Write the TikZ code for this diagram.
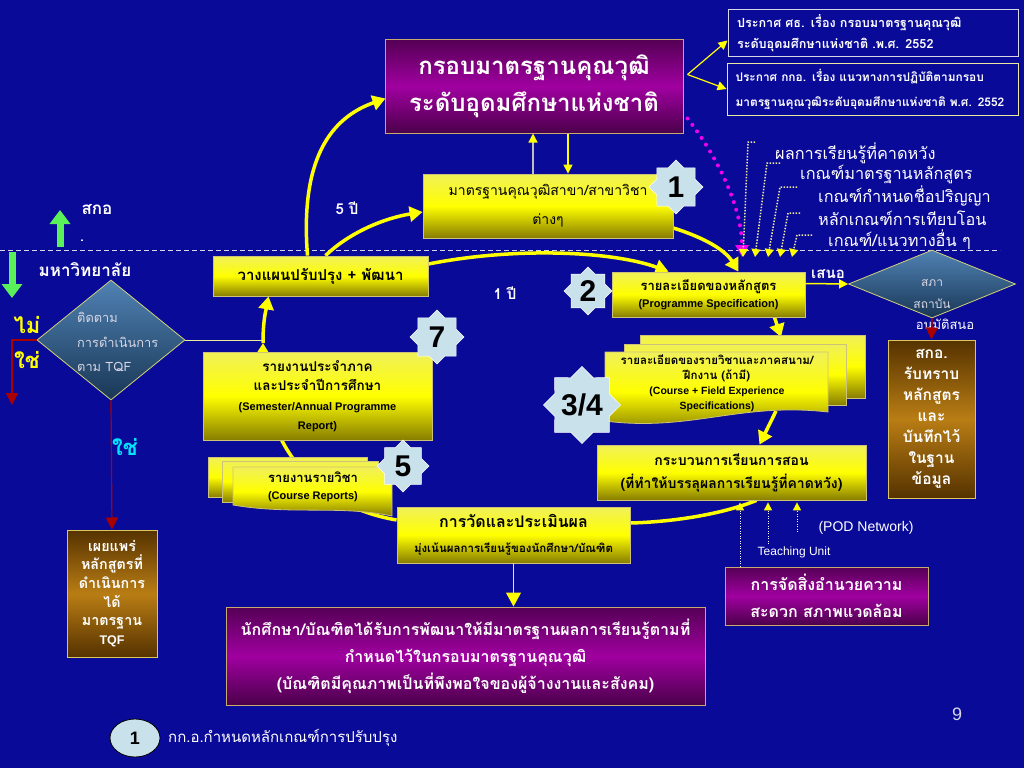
\documentclass[tikz,border=0pt]{standalone}
\usepackage{fontspec}
\setmainfont{Liberation Sans}
\newfontfamily\thaif[Script=Thai]{Loma}
\usetikzlibrary{shapes.geometric,arrows.meta,calc}
\definecolor{BG}{RGB}{10,10,153}
\definecolor{Ytop}{RGB}{240,240,90}
\definecolor{Ymid}{RGB}{255,255,0}
\definecolor{Ybot}{RGB}{135,125,0}
\definecolor{Yedge}{RGB}{205,195,120}
\definecolor{Ptop}{RGB}{85,0,85}
\definecolor{Pmid}{RGB}{160,0,160}
\definecolor{Pbot}{RGB}{75,0,75}
\definecolor{Pedge}{RGB}{200,170,110}
\definecolor{Btop}{RGB}{85,50,0}
\definecolor{Bmid}{RGB}{185,125,20}
\definecolor{Bbot}{RGB}{85,50,0}
\definecolor{Bedge}{RGB}{220,200,90}
\definecolor{Dtop}{RGB}{80,130,180}
\definecolor{Dbot}{RGB}{25,55,85}
\definecolor{Dedge}{RGB}{210,210,120}
\definecolor{StarC}{RGB}{200,225,235}
\definecolor{ArrY}{RGB}{255,255,0}
\definecolor{Mag}{RGB}{240,0,240}
\definecolor{RedL}{RGB}{170,0,0}
\definecolor{GreenA}{RGB}{90,240,90}
\definecolor{CyanT}{RGB}{0,230,255}
\definecolor{YelT}{RGB}{255,255,0}
\definecolor{GreyT}{RGB}{215,215,230}
\definecolor{PaleY}{RGB}{235,235,160}
\definecolor{GreyL}{RGB}{190,190,190}
\newcommand{\fsz}[2]{\fontsize{#1}{#2}\selectfont}
\pgfdeclarelayer{back}
\pgfdeclarelayer{mid}
\pgfsetlayers{back,mid,main}
\tikzset{
 ybox/.style={draw=Yedge, line width=0.8pt, top color=Ytop, bottom color=Ybot, middle color=Ymid, align=center, inner sep=0pt, text=black},
 sheet/.style={draw=Yedge, line width=0.8pt, top color=Ytop, bottom color=Ybot, middle color=Ymid},
 pbox/.style={draw=Pedge, line width=1pt, top color=Ptop, bottom color=Pbot, middle color=Pmid, align=center, inner sep=0pt, text=white},
 bbox/.style={draw=Bedge, line width=1pt, top color=Btop, bottom color=Bbot, middle color=Bmid, align=center, inner sep=0pt, text=white},
 nbox/.style={line width=1pt, fill=BG, inner sep=0pt, text=white},
 dia/.style={diamond, draw=Dedge, line width=0.8pt, top color=Dtop, bottom color=Dbot, inner sep=0pt},
 starn/.style={star, star points=8, star point ratio=1.31, fill=StarC, draw=white, line width=0.5pt, inner sep=0pt, text=black, font=\bfseries\fsz{30}{30}},
 cyc/.style={draw=ArrY, line width=3.5pt, -{Triangle[length=13pt,width=15pt]}},
 cycn/.style={draw=ArrY, line width=3.5pt},
 thinY/.style={draw=ArrY, line width=1.2pt, -{Triangle[length=9pt,width=9pt]}},
 ydot/.style={draw=PaleY, line width=1.5pt, dash pattern=on 1.5pt off 1.5pt, -{Triangle[length=8pt,width=9pt,color=ArrY]}},
 wdot/.style={draw=white, line width=1pt, dash pattern=on 1pt off 1.5pt, -{Triangle[length=8pt,width=8pt,color=ArrY]}},
 redl/.style={draw=RedL, line width=1.2pt, -{Triangle[length=12pt,width=12pt]}},
 garrow/.style={draw=GreenA, line width=7pt, -{Triangle[length=14pt,width=20pt]}},
 crit/.style={anchor=west, inner sep=0pt, text=white, font=\thaif\fsz{16.3}{20}},
 lbl/.style={inner sep=0pt, text=white},
}
\begin{document}
\begin{tikzpicture}[x=1pt,y=-1pt]
\useasboundingbox (0,0) rectangle (1024,768);
\begin{pgfonlayer}{back}
\fill[BG] (0,0) rectangle (1024,768);
\end{pgfonlayer}

% coordinates
\coordinate (k) at (263,343);
\coordinate (spectop) at (781,337);
\coordinate (specbot) at (776,411);
\coordinate (magend) at (742,257);
\coordinate (t1) at (743,257);
\coordinate (t2) at (755,257);
\coordinate (t3) at (768,257);
\coordinate (t4) at (780,257);
\coordinate (t5) at (792,257);
\coordinate (tu) at (768,544);
\coordinate (podc) at (797,532);
\coordinate (redend) at (12,405);
\coordinate (gup0) at (60,247);
\coordinate (gup1) at (60,210);
\coordinate (gdn0) at (12,252);
\coordinate (gdn1) at (12,298);

% top right announcement boxes
\node[nbox, draw=GreyT, minimum width=290pt, minimum height=47pt, text width=272pt, align=left, font=\thaif\bfseries\fsz{12.6}{21}] (an1) at (873,33.5) {ประกาศ ศธ. เรื่อง กรอบมาตรฐานคุณวุฒิ\\ระดับอุดมศึกษาแห่งชาติ .พ.ศ. 2552};
\node[nbox, draw=PaleY, minimum width=291pt, minimum height=52pt, text width=274pt, align=left, font=\thaif\bfseries\fsz{11.9}{25}] (an2) at (872.5,89) {ประกาศ กกอ. เรื่อง แนวทางการปฏิบัติตามกรอบ\\มาตรฐานคุณวุฒิระดับอุดมศึกษาแห่งชาติ พ.ศ. 2552};

% main frame box
\node[pbox, minimum width=298pt, minimum height=93pt, font=\thaif\bfseries\fsz{24}{37}] (main) at (534,86.5) {กรอบมาตรฐานคุณวุฒิ\\ระดับอุดมศึกษาแห่งชาติ};
\coordinate (mfork) at ($(main.east)+(4,-12)$);

% field standards
\node[ybox, minimum width=250pt, minimum height=64pt, font=\thaif\fsz{14}{29}] (std) at (548,206) {มาตรฐานคุณวุฒิสาขา/สาขาวิชา\\ต่างๆ};

% plan
\node[ybox, minimum width=215pt, minimum height=40pt, font=\thaif\bfseries\fsz{15}{18}] (plan) at (320.5,276) {วางแผนปรับปรุง + พัฒนา};

% programme spec
\node[ybox, minimum width=193pt, minimum height=45pt, font=\bfseries\fsz{11}{17}] (prog) at (708.5,294.5) {{\thaif\fsz{13}{17}รายละเอียดของหลักสูตร}\\(Programme Specification)};

% council diamond
\node[dia, minimum width=167pt, minimum height=68pt] (sapa) at (932,284) {};
\node[lbl, align=center, font=\thaif\fsz{12}{22}, text=GreyT] (sapat) at (932,294) {สภา\\สถาบัน};
\node[lbl, font=\thaif\fsz{13}{15}] (appr) at (945,326) {อนุมัติสนอ};

% OHEC acknowledges
\node[bbox, minimum width=87pt, minimum height=158pt, font=\thaif\bfseries\fsz{15.5}{21}] (sko) at (931.5,419) {สกอ.\\รับทราบ\\หลักสูตร\\และ\\บันทึกไว้\\ในฐาน\\ข้อมูล};

% course specs (stacked sheets)
\path[sheet] (640,335) rectangle (865,398);
\path[sheet] (624,344) rectangle (846,405);
\path[sheet] (605,352) -- (828,352) -- (828,412) .. controls (740,402) and (690,432) .. (605,421) -- cycle;
\node[lbl, text=black, align=center, font=\bfseries\fsz{10.5}{15}] (spec) at (717,383) {{\thaif\fsz{11.5}{15}รายละเอียดของรายวิชาและภาคสนาม/}\\{\thaif\fsz{11.5}{15}ฝึกงาน (ถ้ามี)}\\(Course + Field Experience\\Specifications)};

% teaching
\node[ybox, minimum width=269pt, minimum height=55pt, font=\thaif\bfseries\fsz{14}{23}] (teach) at (731.5,472.5) {กระบวนการเรียนการสอน\\(ที่ทำให้บรรลุผลการเรียนรู้ที่คาดหวัง)};

% facilities
\node[pbox, minimum width=203pt, minimum height=58pt, font=\thaif\bfseries\fsz{16}{27}] (facil) at (826.5,596) {การจัดสิ่งอำนวยความ\\สะดวก สภาพแวดล้อม};

% report 7
\node[ybox, minimum width=229pt, minimum height=88pt, font=\bfseries\fsz{11}{19.5}] (rep7) at (317.5,396) {{\thaif\fsz{13.5}{19.5}รายงานประจำภาค}\\{\thaif\fsz{13.5}{19.5}และประจำปีการศึกษา}\\(Semester/Annual Programme\\Report)};

% course reports (stacked sheets)
\path[sheet] (208,457) rectangle (367,497);
\path[sheet] (222,461) rectangle (378,502);
\path[sheet] (233,467) -- (392,467) -- (392,516) .. controls (340,505) and (290,515) .. (233,505) -- cycle;
\node[lbl, text=black, align=center, font=\bfseries\fsz{11}{17}] (crep) at (313,487) {{\thaif\fsz{13}{17}รายงานรายวิชา}\\(Course Reports)};

% evaluation
\node[ybox, minimum width=233pt, minimum height=56pt, font=\thaif\bfseries\fsz{16}{25}] (eval) at (513.5,535) {การวัดและประเมินผล\\{\fsz{11.5}{25}มุ่งเน้นผลการเรียนรู้ของนักศึกษา/บัณฑิต}};

% outcome
\node[pbox, minimum width=479pt, minimum height=98pt, font=\thaif\bfseries\fsz{16}{27}] (outcome) at (465.5,656) {นักศึกษา/บัณฑิตได้รับการพัฒนาให้มีมาตรฐานผลการเรียนรู้ตามที่\\กำหนดไว้ในกรอบมาตรฐานคุณวุฒิ\\(บัณฑิตมีคุณภาพเป็นที่พึงพอใจของผู้จ้างงานและสังคม)};

% follow-up diamond
\node[dia, minimum width=148pt, minimum height=120pt] (follow) at (111,340) {};
\node[lbl, anchor=west, align=left, font=\thaif\fsz{12.8}{24.5}, text=GreyT] (followt) at (77,342) {ติดตาม\\การดำเนินการ\\ตาม TQF};

% publish box
\node[bbox, minimum width=90pt, minimum height=127pt, font=\thaif\bfseries\fsz{14.3}{18.6}] (pub) at (112,593.5) {เผยแพร่\\หลักสูตรที่\\ดำเนินการ\\ได้\\มาตรฐาน\\{\normalfont\bfseries\fsz{12.5}{18.6}TQF}};

% criteria list
\node[crit] (c1) at (775,153) {ผลการเรียนรู้ที่คาดหวัง};
\node[crit] (c2) at (800,174) {เกณฑ์มาตรฐานหลักสูตร};
\node[crit] (c3) at (818,196) {เกณฑ์กำหนดชื่อปริญญา};
\node[crit] (c4) at (818,218) {หลักเกณฑ์การเทียบโอน};
\node[crit] (c5) at (828,240) {เกณฑ์/แนวทางอื่น ๆ};

% labels
\node[lbl, font=\thaif\bfseries\fsz{15}{15}] (y5) at (347,208) {5 ปี};
\node[lbl, font=\thaif\bfseries\fsz{15}{15}] (y1) at (505,293) {1 ปี};
\node[lbl, font=\thaif\bfseries\fsz{15}{15}] (sanoe) at (828,274) {เสนอ};
\node[lbl, font=\thaif\bfseries\fsz{17}{17}] (sko0) at (97,210) {สกอ};
\node[lbl, font=\thaif\bfseries\fsz{14}{14}] (dotl) at (82,241) {.};
\node[lbl, font=\thaif\bfseries\fsz{17}{17}] (uni) at (85,270) {มหาวิทยาลัย};
\node[lbl, font=\thaif\bfseries\fsz{22}{22}, text=YelT] (no) at (27,325) {ไม่};
\node[lbl, font=\thaif\bfseries\fsz{22}{22}, text=YelT] (yes1) at (27,360) {ใช่};
\node[lbl, font=\thaif\bfseries\fsz{22}{22}, text=CyanT] (yes2) at (125,447) {ใช่};
\node[lbl, font=\fsz{14}{14}] (pod) at (866,528) {(POD Network)};
\node[lbl, font=\fsz{12}{12}] (tun) at (794,552) {Teaching Unit};
\node[lbl, font=\fsz{18}{18}, text=GreyT] (pg) at (957,714) {9};

% legend
\node[ellipse, draw=black, line width=0.8pt, fill=StarC, minimum width=50pt, minimum height=38pt, inner sep=0pt, font=\bfseries\fsz{18}{18}] (leg) at (135,738) {1};
\node[lbl, anchor=west, font=\thaif\fsz{15}{15}] (legt) at (168,738) {กก.อ.กำหนดหลักเกณฑ์การปรับปรุง};

% stars
\node[starn, minimum size=54pt] (s1) at (676,187) {1};
\node[starn, minimum size=48pt] (s2) at (588,291) {2};
\node[starn, minimum size=58pt] (s34) at (582,405) {3/4};
\node[starn, minimum size=54pt] (s7) at (437,337) {7};
\node[starn, minimum size=52pt] (s5) at (403,466) {5};

% connectors under the boxes
\begin{pgfonlayer}{mid}
\draw[draw=GreyT, line width=1pt, dash pattern=on 5pt off 3pt] (0,250) -- (1000,250);
\draw[cyc] ($(plan.north)+(-13,0)$) .. controls (300,160) and (330,118) .. ($(main.west)+(1,12)$);
\draw[cyc] ($(plan.north)+(5,0)$) .. controls (350,232) and (385,218) .. ($(std.west)+(0,6)$);
\draw[cyc] ($(std.east)+(0,22)$) .. controls (705,238) and (725,250) .. ($(prog.north)+(30,0)$);
\draw[cyc] ($(plan.east)+(0,-12)$) .. controls (520,246) and (615,252) .. ($(prog.north)+(-40,0)$);
\draw[cyc] ($(prog.south)+(66,0)$) -- (spectop);
\draw[cyc] (specbot) -- ($(teach.north)+(28,0)$);
\draw[cycn] ($(teach.south)+(25,0)$) .. controls (720,515) and (670,522) .. ($(eval.east)+(0,-12)$);
\draw[cyc] ($(eval.west)+(0,-15)$) .. controls (310,505) and (262,440) .. (k);
\draw[cyc] (k) .. controls (263,320) and (266,310) .. ($(plan.south)+(-52,0)$);
\draw[draw=PaleY, line width=1pt] (follow.east) -- (follow.east -| k);
\end{pgfonlayer}

% other connectors
\draw[thinY] (mfork) -- ($(an1.west)+(0,7)$);
\draw[thinY] (mfork) -- (an2.west);
\draw[draw=GreyL, line width=1.2pt, -{Triangle[length=9pt,width=9pt,color=ArrY]}] ($(std.north)+(-15,0)$) -- ($(main.south)+(-1,0)$);
\draw[thinY] ($(main.south)+(34,0)$) -- ($(std.north)+(20,0)$);
\draw[draw=Mag, line width=4pt, line cap=round, dash pattern=on 0pt off 8pt, -{Triangle[length=12pt,width=13pt,color=Mag]}] ($(main.south east)+(4,-15)$) .. controls (720,160) and (742,210) .. (magend);
\draw[ydot] ($(c1.west)+(-20,-11)$) -- ++(-7,0) -- (t1);
\draw[ydot] ($(c2.west)+(-20,-11)$) -- ++(-13,0) -- (t2);
\draw[ydot] ($(c3.west)+(-21,-9)$) -- ++(-17,0) -- (t3);
\draw[ydot] ($(c4.west)+(-18,-5)$) -- ++(-12,0) -- (t4);
\draw[ydot] ($(c5.west)+(-16,-5)$) -- ++(-15,0) -- (t5);
\draw[draw=ArrY, line width=1.5pt, -{Triangle[length=9pt,width=9pt]}] ($(prog.east)+(0,-11)$) -- (sapa.west);
\draw[redl, line width=1.5pt] (sapa.south) -- (sko.north);
\draw[redl] (follow.west) -- (follow.west -| redend) -- (redend);
\draw[redl] (follow.south) -- (pub.north);
\draw[draw=ArrY, line width=1.2pt, -{Triangle[length=14pt,width=15pt]}] (eval.south) -- (eval.south |- outcome.north);
\draw[wdot] ($(facil.north)+(-86.5,0)$) -- ($(teach.south)+(8.5,2)$);
\draw[wdot] (tu) -- ($(teach.south)+(36.5,2)$);
\draw[wdot] (podc) -- ($(teach.south)+(65.5,2)$);
\draw[garrow] (gup0) -- (gup1);
\draw[garrow] (gdn0) -- (gdn1);
\end{tikzpicture}
\end{document}
